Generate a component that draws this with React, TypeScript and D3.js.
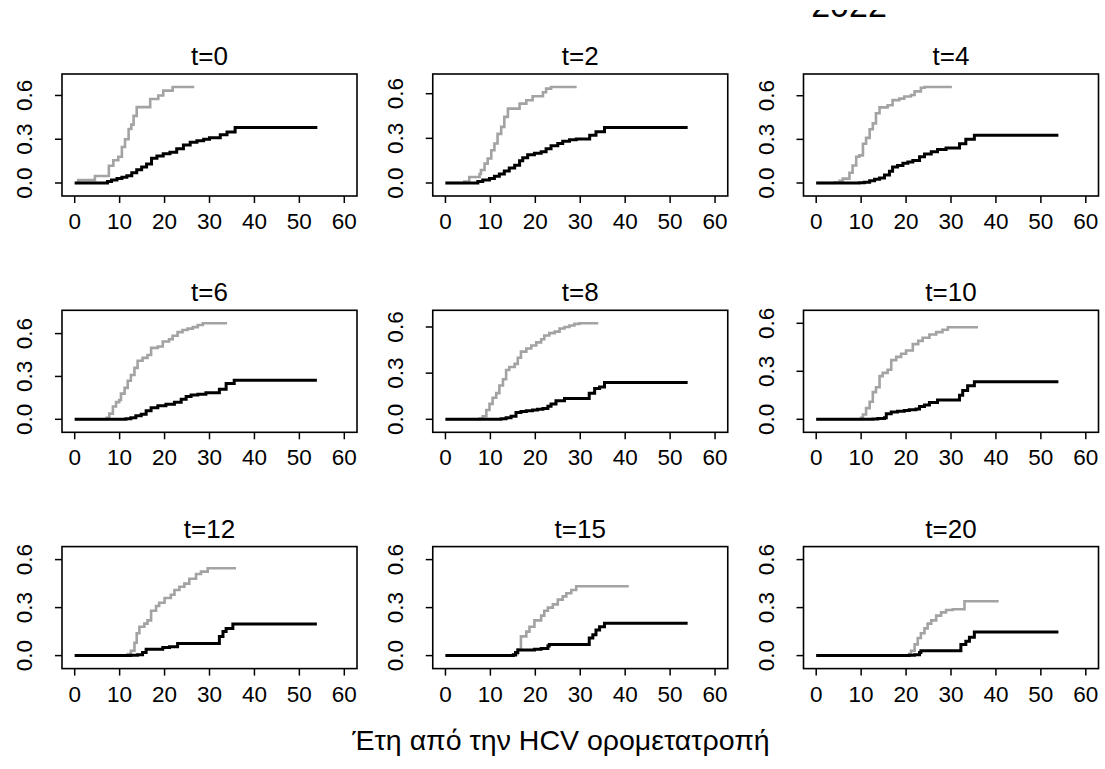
import React from "react";
import * as d3 from "d3";

type Pt = [number, number];

const panelLabels = ["t=0", "t=2", "t=4", "t=6", "t=8", "t=10", "t=12", "t=15", "t=20"];
const xTicks = [0, 10, 20, 30, 40, 50, 60];
const yTicks = [0, 0.3, 0.6];
const xLabel = "Έτη από την HCV ορομετατροπή";
const clippedTopText = "2022";

const g0: Pt[] = [[0,0],[0.8,0.02],[4.5,0.048],[7.6,0.118],[8.6,0.156],[9.7,0.18],[10.5,0.247],[11.2,0.30],[12,0.37],[12.6,0.40],[13.1,0.46],[13.8,0.52],[16.8,0.576],[18.6,0.60],[19.7,0.633],[21.8,0.658],[26.6,0.658]];
const b0: Pt[] = [[0,0],[7.3,0.01],[8.2,0.02],[9.4,0.03],[10.5,0.04],[11.6,0.05],[12.7,0.07],[13.8,0.09],[14.9,0.11],[16,0.13],[17.1,0.17],[18.3,0.185],[19.7,0.2],[21.2,0.21],[22.7,0.235],[24.2,0.26],[25.7,0.28],[27.2,0.29],[28.7,0.30],[30,0.31],[32.4,0.33],[33.9,0.35],[35.7,0.38],[54,0.38]];
const g2: Pt[] = [[0,0],[4.2,0.01],[5.3,0.04],[7.6,0.06],[7.9,0.087],[8.7,0.13],[9.4,0.165],[10.2,0.22],[10.9,0.265],[11.6,0.33],[12.4,0.377],[13.1,0.444],[13.9,0.5],[16.5,0.533],[18,0.556],[19.4,0.583],[21.7,0.61],[22.4,0.634],[23.5,0.645],[29.2,0.645]];
const b2: Pt[] = [[0,0],[7.2,0.01],[8.3,0.02],[9.8,0.03],[10.9,0.045],[12,0.06],[13.1,0.08],[14.2,0.1],[15.4,0.12],[16.5,0.15],[17.2,0.17],[18.3,0.19],[19.8,0.2],[21.3,0.21],[22.4,0.23],[23.5,0.25],[25,0.265],[26.1,0.28],[27.6,0.29],[29.1,0.295],[32.1,0.32],[33.5,0.345],[35.4,0.373],[53.9,0.373]];
const g4: Pt[] = [[0,0],[4.1,0.005],[5.2,0.015],[5.9,0.03],[7.4,0.07],[8.1,0.12],[8.9,0.18],[9.6,0.19],[10.4,0.27],[11.1,0.31],[11.9,0.37],[12.6,0.41],[13.3,0.48],[14.1,0.52],[15.9,0.535],[17,0.57],[18.5,0.58],[19.6,0.595],[21.1,0.605],[21.9,0.63],[23.3,0.655],[24.1,0.66],[30.2,0.66]];
const b4: Pt[] = [[0,0],[9.6,0.002],[10.7,0.005],[11.9,0.015],[13,0.025],[14.1,0.035],[15.2,0.055],[16.3,0.08],[17,0.11],[18.1,0.12],[19.3,0.135],[20.4,0.145],[21.5,0.155],[23,0.18],[24.1,0.2],[25.6,0.215],[27,0.23],[28.9,0.24],[31.9,0.27],[33.3,0.3],[35.2,0.329],[53.9,0.329]];
const g6: Pt[] = [[0,0],[7.1,0.01],[7.7,0.04],[8.5,0.09],[9.2,0.12],[9.9,0.135],[10.3,0.18],[11.1,0.22],[11.8,0.27],[12.5,0.31],[13.3,0.36],[14,0.41],[15.1,0.43],[16.2,0.45],[17,0.5],[18.5,0.51],[19.6,0.545],[21,0.56],[21.8,0.585],[22.9,0.61],[24,0.625],[25.1,0.635],[26.3,0.645],[27.4,0.66],[28.5,0.672],[33.9,0.672]];
const b6: Pt[] = [[0,0],[11.4,0.003],[12.5,0.01],[13.6,0.025],[14.8,0.035],[15.9,0.06],[17,0.08],[18.5,0.095],[20.3,0.105],[22.2,0.12],[23.7,0.14],[24.8,0.16],[25.9,0.17],[27.4,0.175],[29.2,0.185],[32.2,0.21],[33.7,0.25],[35.5,0.274],[53.9,0.274]];
const g8: Pt[] = [[0,0],[7.6,0.005],[8.3,0.02],[9.1,0.06],[9.8,0.1],[10.5,0.14],[11.3,0.17],[12,0.22],[12.8,0.26],[13.5,0.32],[14.2,0.34],[15.4,0.36],[16.1,0.40],[16.8,0.44],[18,0.46],[19.1,0.48],[20.2,0.5],[21.3,0.52],[22,0.545],[23.1,0.56],[24.3,0.57],[25.4,0.59],[26.5,0.6],[27.6,0.61],[28.7,0.62],[29.8,0.624],[34,0.624]];
const b8: Pt[] = [[0,0],[12.4,0.003],[13.5,0.01],[14.6,0.02],[15.7,0.045],[16.8,0.05],[18,0.055],[19.4,0.06],[20.5,0.065],[21.7,0.07],[22.8,0.085],[23.5,0.1],[24.6,0.12],[26.5,0.135],[32,0.17],[33.2,0.2],[34.3,0.21],[35.4,0.24],[53.9,0.24]];
const g10: Pt[] = [[0,0],[10,0.01],[10.4,0.03],[11.1,0.07],[11.9,0.11],[12.6,0.17],[13.3,0.20],[14.1,0.27],[14.8,0.29],[15.9,0.31],[16.7,0.37],[17.8,0.39],[18.9,0.41],[20,0.43],[21.5,0.47],[22.7,0.49],[23.7,0.51],[25.2,0.53],[26.7,0.545],[28.1,0.56],[29.3,0.575],[36,0.575]];
const b10: Pt[] = [[0,0],[12.6,0.002],[13.7,0.005],[15.2,0.01],[15.6,0.035],[16.7,0.045],[18.1,0.05],[19.6,0.055],[20.7,0.06],[22.2,0.065],[23,0.08],[24.1,0.09],[25.2,0.105],[27,0.12],[31.9,0.15],[32.6,0.18],[33.7,0.21],[35.2,0.234],[53.9,0.234]];
const g12: Pt[] = [[0,0],[11.8,0.01],[12.5,0.03],[13.3,0.08],[13.8,0.14],[14.4,0.18],[15.5,0.2],[16.2,0.22],[17,0.28],[18.1,0.31],[18.8,0.33],[20,0.36],[21.4,0.38],[22.2,0.41],[23.3,0.43],[24.4,0.45],[25.5,0.48],[27,0.51],[28.1,0.525],[29.6,0.546],[35.9,0.546]];
const b12: Pt[] = [[0,0],[12.5,0.002],[14,0.005],[15.1,0.02],[15.9,0.04],[19.6,0.05],[21.1,0.055],[22.9,0.075],[32.2,0.12],[33,0.15],[33.7,0.17],[35.2,0.198],[53.9,0.198]];
const g15: Pt[] = [[0,0],[15.7,0.01],[16.1,0.04],[16.8,0.12],[18,0.15],[18.7,0.18],[19.8,0.22],[21.3,0.25],[22,0.28],[22.8,0.3],[23.9,0.32],[25,0.35],[26.1,0.37],[26.9,0.39],[28,0.41],[29.1,0.433],[40.8,0.433]];
const b15: Pt[] = [[0,0],[15.1,0.005],[15.6,0.02],[16.1,0.035],[19.8,0.04],[21.3,0.045],[22.8,0.06],[23.1,0.07],[32,0.11],[32.8,0.13],[33.5,0.16],[34.3,0.18],[35.4,0.202],[53.9,0.202]];
const g20: Pt[] = [[0,0],[20.7,0.01],[21.1,0.03],[21.9,0.07],[22.6,0.11],[23.3,0.14],[24.1,0.17],[24.8,0.2],[25.6,0.22],[26.7,0.25],[27.8,0.27],[28.9,0.285],[30.4,0.29],[33,0.34],[40.6,0.34]];
const b20: Pt[] = [[0,0],[20.7,0.002],[21.9,0.005],[23,0.02],[23.3,0.03],[32.2,0.07],[33.3,0.09],[34.1,0.115],[35.2,0.148],[53.9,0.148]];

const greySeries = [g0, g2, g4, g6, g8, g10, g12, g15, g20];
const blackSeries = [b0, b2, b4, b6, b8, b10, b12, b15, b20];

const W = 1105;
const H = 769;
const BOX_W = 295;
const BOX_H = 122;
const COL_STEP = 370.75;
const ROW_STEP = 236.3;
const LEFT0 = 62;
const TOP0 = 74;
const XPAD = 12.7;
const YPAD = 13;
const FONT = "Liberation Sans, Arial, Helvetica, sans-serif";

function Panel({ i }: { i: number }) {
  const col = i % 3;
  const row = Math.floor(i / 3);
  const left = LEFT0 + col * COL_STEP;
  const top = TOP0 + row * ROW_STEP;
  const right = left + BOX_W;
  const bottom = top + BOX_H;
  const grey = greySeries[i];
  const black = blackSeries[i];
  const ymax = Math.max(0.6, d3.max(grey, (d) => d[1]) as number, d3.max(black, (d) => d[1]) as number);
  const x = d3.scaleLinear().domain([0, 60]).range([left + XPAD, right - XPAD]);
  const y = d3.scaleLinear().domain([0, ymax]).range([bottom - YPAD, top + YPAD]);
  const line = d3
    .line<Pt>()
    .x((d) => x(d[0]))
    .y((d) => y(d[1]))
    .curve(d3.curveStepAfter);
  return (
    <g>
      <path d={line(grey) || ""} fill="none" stroke="#a3a3a3" strokeWidth={2.6} />
      <path d={line(black) || ""} fill="none" stroke="#000" strokeWidth={3} />
      <rect x={left} y={top} width={BOX_W} height={BOX_H} fill="none" stroke="#000" strokeWidth={1.6} />
      {xTicks.map((t) => (
        <g key={"x" + t}>
          <line x1={x(t)} x2={x(t)} y1={bottom} y2={bottom + 7} stroke="#000" strokeWidth={1.5} />
          <text x={x(t)} y={bottom + 33} textAnchor="middle" fontSize={22.5} fontFamily={FONT}>
            {t}
          </text>
        </g>
      ))}
      {yTicks.map((t) => (
        <g key={"y" + t}>
          <line x1={left - 7} x2={left} y1={y(t)} y2={y(t)} stroke="#000" strokeWidth={1.5} />
          <text
            transform={`translate(${left - 30},${y(t)}) rotate(-90)`}
            textAnchor="middle"
            fontSize={22.5}
            fontFamily={FONT}
          >
            {t.toFixed(1)}
          </text>
        </g>
      ))}
      <text x={(left + right) / 2} y={top - 9} textAnchor="middle" fontSize={26} fontFamily={FONT}>
        {panelLabels[i]}
      </text>
    </g>
  );
}

export default function App() {
  return (
    <svg
      width={W}
      height={H}
      style={{ position: "absolute", left: 0, top: 0, background: "#fff" }}
      xmlns="http://www.w3.org/2000/svg"
    >
      <rect x={0} y={0} width={W} height={H} fill="#fff" />
      <defs>
        <clipPath id="topclip">
          <rect x={780} y={10} width={150} height={10} />
        </clipPath>
      </defs>
      <text x={849} y={17} textAnchor="middle" fontSize={34} fontFamily={FONT} clipPath="url(#topclip)">
        {clippedTopText}
      </text>
      {panelLabels.map((_, i) => (
        <Panel key={i} i={i} />
      ))}
      <text x={561} y={750} textAnchor="middle" fontSize={28.5} fontFamily={FONT}>
        {xLabel}
      </text>
    </svg>
  );
}
